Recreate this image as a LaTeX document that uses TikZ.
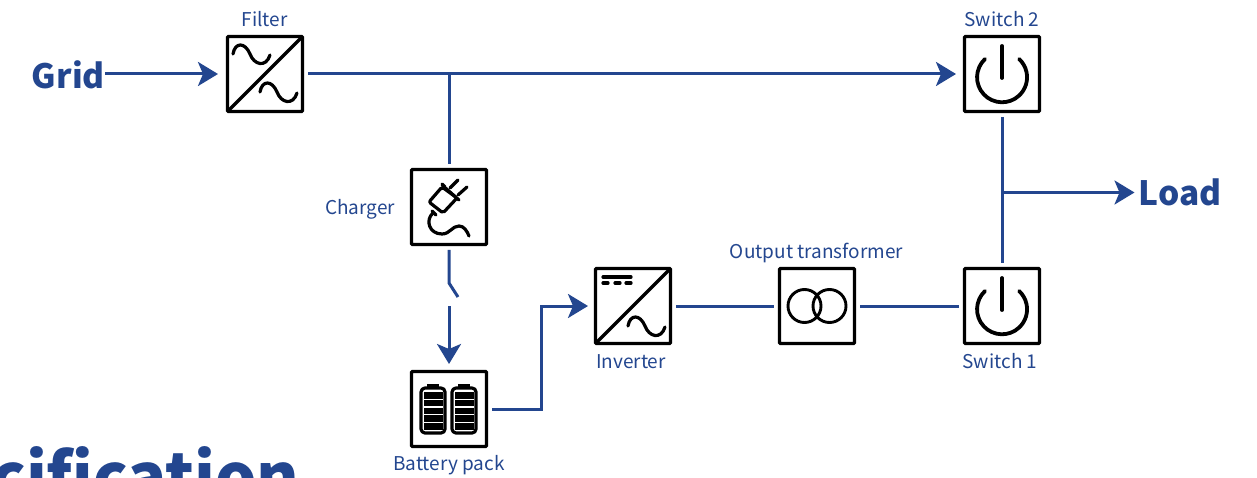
\documentclass[tikz,border=0pt]{standalone}
\usepackage{fontspec}
\setmainfont{Noto Sans CJK SC}
\usetikzlibrary{arrows.meta}
\definecolor{ublue}{HTML}{23468F}
\tikzset{
  unit/.style={draw=black,line width=3.2pt,minimum size=75pt,inner sep=0pt,outer sep=5.5pt,rounded corners=0.8pt},
  lbl/.style={text=ublue,font=\fontsize{19}{21}\selectfont,inner sep=0pt},
  big/.style={text=ublue,font=\bfseries\fontsize{33.5}{36}\selectfont,inner sep=0pt},
  link/.style={draw=ublue,line width=3pt},
  arr/.style={link,-{Stealth[length=20pt,width=24pt,inset=5pt]}},
  ico/.style={draw=black,line width=3.2pt,line cap=round,line join=round},
}
\newcommand{\sinewave}[2]{\draw[ico] (#1-32,#2-20) .. controls (#1-30,#2-32) and (#1-20,#2-32) .. (#1-15,#2-20) .. controls (#1-11,#2-9) and (#1+1,#2-6) .. (#1+5,#2-19);}
\newcommand{\powericon}{\draw[ico,line width=3.8pt] (0,-28) -- (0,4); \draw[ico,line width=3.8pt] (-17,-15) arc[start angle=133,end angle=407,radius=25pt];}
\begin{document}
\begin{tikzpicture}[x=1pt,y=-1pt]
\useasboundingbox (0,0) rectangle (1257,478);
% units
\node[unit] (filter) at (265,74) {};
\node[unit] (charger) at (449,207) {};
\node[unit] (battery) at (449,409) {};
\node[unit] (inverter) at (633,306) {};
\node[unit] (transformer) at (817,306) {};
\node[unit] (switchone) at (1002,306) {};
\node[unit] (switchtwo) at (1002,74) {};
% labels
\node[lbl] (lfilter) at (264.5,19) {Filter};
\node[lbl] (lcharger) at (360,209) {Charger};
\node[lbl] (lbattery) at (449,465) {Battery pack};
\node[lbl] (linverter) at (631,362) {Inverter};
\node[lbl] (ltransformer) at (816.5,253) {Output transformer};
\node[lbl] (lswitchone) at (1000,361) {Switch 1};
\node[lbl] (lswitchtwo) at (1002,19) {Switch 2};
\node[big,anchor=east] (grid) at (105,75) {Grid};
\node[big,anchor=west] (load) at (1138.5,192.5) {Load};
\node[text=ublue,font=\bfseries\fontsize{65}{70}\selectfont,inner sep=0pt,anchor=base west] (title) at (-9,500) {cification};
% connectors
\coordinate (jtop) at (filter.east -| charger.north);
\coordinate (jload) at (switchtwo.south |- load.west);
\coordinate (swtop) at (449,283);
\coordinate (swend) at (458,297);
\coordinate (swin) at (449,306);
\coordinate (bend) at (541,409);
\draw[arr,shorten >=4pt] (grid.east |- filter.west) -- (filter.west);
\draw[arr,shorten >=3pt] (filter.east) -- (switchtwo.west);
\draw[link] (jtop) -- (charger.north);
\draw[link,line join=round] (charger.south) -- (swtop) -- (swend);
\draw[arr,shorten >=2pt] (swin) -- (battery.north);
\draw[arr,line join=miter,shorten >=2pt] (battery.east) -- (bend) |- (inverter.west);
\draw[link] (inverter.east) -- (transformer.west);
\draw[link] (transformer.east) -- (switchone.west);
\draw[link] (switchtwo.south) -- (switchone.north);
\draw[arr,shorten >=4pt] (jload) -- (load.west);
% filter icon
\begin{scope}[shift={(filter.center)}]
\draw[ico] (-37,37) -- (37,-37);
\sinewave{0}{0}
\sinewave{27}{38}
\end{scope}
% inverter icon
\begin{scope}[shift={(inverter.center)}]
\draw[ico] (-37,37) -- (37,-37);
\draw[ico] (-30,-29) -- (-2,-29);
\draw[ico] (-30,-23) -- (-25,-23) (-18,-23) -- (-13,-23) (-7,-23) -- (-2,-23);
\sinewave{27}{40}
\end{scope}
% transformer icon
\begin{scope}[shift={(transformer.center)}]
\draw[ico,line width=2.9pt] (-12.5,0) circle[radius=16.5pt] (12.5,0) circle[radius=16.5pt];
\end{scope}
% switch icons
\begin{scope}[shift={(switchone.center)}]\powericon\end{scope}
\begin{scope}[shift={(switchtwo.center)}]\powericon\end{scope}
% charger icon
\begin{scope}[shift={(charger.center)}]
\draw[ico] (1,-19) -- (9,-27) (9,-12) -- (18,-20);
\draw[ico,rounded corners=2pt] (-7,-20) -- (-20,-5) -- (-6,6) -- (8,-9) -- cycle;
\draw[ico] (-7,-23) -- (-4,-20) (-7,-22) -- (10,-7);
\draw[ico] (-17,4) -- (-13,8);
\draw[ico] (-16,6) .. controls (-24,13) and (-20,27) .. (-7,27) .. controls (1,27) and (3,19) .. (10,19) .. controls (15,19) and (18,24) .. (20,29);
\end{scope}
% battery icon
\begin{scope}[shift={(battery.center)}]
\foreach \cx in {-16,15}{
  \draw[ico,rounded corners=4pt] (\cx-12,-21) rectangle (\cx+12,24);
  \fill[black] (\cx-6,-25) rectangle (\cx+6,-20);
  \foreach \by in {-17,-9.2,-1.4,6.4,14.2}
    \fill[black] (\cx-9.5,\by) rectangle (\cx+9.5,\by+6.6);
}
\end{scope}
\end{tikzpicture}
\end{document}
